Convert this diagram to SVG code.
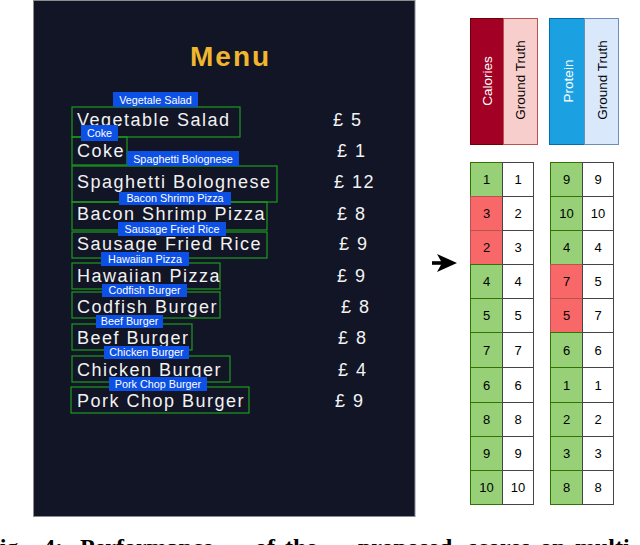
<svg xmlns="http://www.w3.org/2000/svg" width="640" height="545" viewBox="0 0 640 545">
<style>
.item{font-family:"Liberation Sans",Arial,sans-serif;font-size:18px;letter-spacing:1.5px;fill:#f2f2f2}
.price{font-family:"Liberation Sans",Arial,sans-serif;font-size:18px;letter-spacing:1.5px;fill:#f2f2f2}
.box{fill:none;stroke:#1e9b1e;stroke-width:1.2}
.lbl{fill:#0d50e6}
.lt{font-family:"Liberation Sans",Arial,sans-serif;font-size:10.8px;fill:#ffffff;text-anchor:middle}
.deco{stroke-width:1.6;fill:none}
.num{font-family:"Liberation Sans",Arial,sans-serif;font-size:13px;fill:#000;text-anchor:middle}
.g{fill:#97d077;stroke:#2d7600;stroke-width:1}
.r{fill:#f86868;stroke:#b85450;stroke-width:1}
.w{fill:#ffffff;stroke:#444;stroke-width:1}
.hd{font-family:"Liberation Sans",Arial,sans-serif;font-size:13.5px;text-anchor:middle}
.cap{font-family:"Liberation Serif","Times New Roman",serif;font-size:24px;font-weight:bold;fill:#000}
</style>
<defs>
<linearGradient id="gv" x1="0" y1="0" x2="0" y2="1">
<stop offset="0" stop-color="#5a4a3a"/><stop offset="0.4" stop-color="#a8a29a"/><stop offset="1" stop-color="#6e665c"/>
</linearGradient>
<linearGradient id="gh" x1="0" y1="0" x2="1" y2="0">
<stop offset="0" stop-color="#b0aaa2"/><stop offset="1" stop-color="#8e877e"/>
</linearGradient>
</defs>
<rect x="0" y="0" width="640" height="545" fill="#ffffff"/>

<g id="menu-panel">
<rect x="33.5" y="0.5" width="381.5" height="516" fill="#111526" stroke="#8c8c8c" stroke-width="1"/>
<line class="deco" x1="41" y1="27" x2="136" y2="27" stroke="url(#gh)"/>
<line class="deco" x1="41" y1="36" x2="136" y2="36" stroke="url(#gh)"/>
<line class="deco" x1="47" y1="18" x2="47" y2="170" stroke="url(#gv)" stroke-width="1.3"/>
<line class="deco" x1="54" y1="11" x2="54" y2="178" stroke="url(#gv)"/>
<line class="deco" x1="294" y1="481" x2="390" y2="481" stroke="url(#gh)"/>
<line class="deco" x1="294" y1="490" x2="390" y2="490" stroke="url(#gh)"/>
<line class="deco" x1="376" y1="360" x2="376" y2="508" stroke="url(#gv)" stroke-width="1.3"/>
<line class="deco" x1="382" y1="352" x2="382" y2="498" stroke="url(#gv)"/>
<text x="190" y="66" font-family="'Liberation Sans',Arial,sans-serif" font-size="28" font-weight="bold" letter-spacing="2" fill="#f1b52e">Menu</text>
</g>

<g id="item-vegetable-salad">
<rect class="box" x="72" y="107" width="168" height="30"/>
<text class="item" x="77" y="126">Vegetable Salad</text>
<text class="price" x="333" y="126">£ 5</text>
</g>
<g id="item-coke">
<rect class="box" x="72" y="137" width="55" height="28"/>
<text class="item" x="77" y="157">Coke</text>
<text class="price" x="337" y="157">£ 1</text>
</g>
<g id="item-spaghetti">
<rect class="box" x="72" y="166" width="205" height="36"/>
<text class="item" x="77" y="188">Spaghetti Bolognese</text>
<text class="price" x="334" y="188">£ 12</text>
</g>
<g id="item-bacon">
<rect class="box" x="72" y="202" width="195" height="28"/>
<text class="item" x="77" y="220">Bacon Shrimp Pizza</text>
<text class="price" x="337" y="220">£ 8</text>
</g>
<g id="item-sausage">
<rect class="box" x="72" y="232" width="195" height="26"/>
<text class="item" x="77" y="250">Sausage Fried Rice</text>
<text class="price" x="339" y="250">£ 9</text>
</g>
<g id="item-hawaiian">
<rect class="box" x="72" y="263" width="148" height="26"/>
<text class="item" x="77" y="282">Hawaiian Pizza</text>
<text class="price" x="337" y="282">£ 9</text>
</g>
<g id="item-codfish">
<rect class="box" x="72" y="292" width="148" height="26"/>
<text class="item" x="77" y="313">Codfish Burger</text>
<text class="price" x="341" y="313">£ 8</text>
</g>
<g id="item-beef">
<rect class="box" x="72" y="324" width="120" height="26"/>
<text class="item" x="77" y="344">Beef Burger</text>
<text class="price" x="338" y="344">£ 8</text>
</g>
<g id="item-chicken">
<rect class="box" x="72" y="356" width="158" height="26"/>
<text class="item" x="77" y="376">Chicken Burger</text>
<text class="price" x="338" y="376">£ 4</text>
</g>
<g id="item-pork">
<rect class="box" x="71" y="387" width="178" height="26"/>
<text class="item" x="77" y="407">Pork Chop Burger</text>
<text class="price" x="335" y="407">£ 9</text>
</g>

<g id="labels">
<rect class="lbl" x="113" y="92" width="85" height="15"/><text class="lt" x="155.5" y="103.5">Vegetale Salad</text>
<rect class="lbl" x="81" y="125" width="37" height="16"/><text class="lt" x="99.5" y="137">Coke</text>
<rect class="lbl" x="127" y="151" width="112" height="15"/><text class="lt" x="183" y="162.5">Spaghetti Bolognese</text>
<rect class="lbl" x="119" y="192" width="112" height="13"/><text class="lt" x="175" y="202">Bacon Shrimp Pizza</text>
<rect class="lbl" x="118" y="222" width="108" height="14"/><text class="lt" x="172" y="232.5">Sausage Fried Rice</text>
<rect class="lbl" x="101" y="252" width="88" height="14"/><text class="lt" x="145" y="262.5">Hawaiian Pizza</text>
<rect class="lbl" x="102" y="284" width="85" height="13"/><text class="lt" x="144.5" y="294">Codfish Burger</text>
<rect class="lbl" x="96" y="315" width="67" height="13"/><text class="lt" x="129.5" y="325">Beef Burger</text>
<rect class="lbl" x="104" y="346" width="85" height="13"/><text class="lt" x="146.5" y="356">Chicken Burger</text>
<rect class="lbl" x="109" y="377" width="98" height="14"/><text class="lt" x="158" y="387.5">Pork Chop Burger</text>
</g>

<g id="connectors">
<line x1="432" y1="263" x2="444" y2="263" stroke="#000" stroke-width="3.6"/>
<path d="M437,254 L457,263 L437,272 L442,263 Z" fill="#000"/>
</g>

<g id="header-calories">
<rect x="470.5" y="18.5" width="33" height="126" fill="#a20025" stroke="#6f0000"/>
<text class="hd" fill="#ffffff" transform="translate(492,81) rotate(-90)">Calories</text>
</g>
<g id="header-calories-gt">
<rect x="503.5" y="18.5" width="34" height="126" fill="#f8cecc" stroke="#b85450"/>
<text class="hd" fill="#000" transform="translate(525,80) rotate(-90)">Ground Truth</text>
</g>
<g id="header-protein">
<rect x="549.5" y="18.5" width="35" height="126" fill="#1ba1e2" stroke="#006eaf"/>
<text class="hd" fill="#ffffff" transform="translate(572.5,81) rotate(-90)">Protein</text>
</g>
<g id="header-protein-gt">
<rect x="584.5" y="18.5" width="34" height="126" fill="#dae8fc" stroke="#6c8ebf"/>
<text class="hd" fill="#000" transform="translate(606.5,80) rotate(-90)">Ground Truth</text>
</g>

<g id="table-calories">
<rect class="g" x="470.5" y="162.5" width="32" height="34"/><text class="num" x="486.5" y="184">1</text>
<rect class="r" x="470.5" y="196.5" width="32" height="34"/><text class="num" x="486.5" y="218">3</text>
<rect class="r" x="470.5" y="230.5" width="32" height="34"/><text class="num" x="486.5" y="252">2</text>
<rect class="g" x="470.5" y="264.5" width="32" height="34"/><text class="num" x="486.5" y="286">4</text>
<rect class="g" x="470.5" y="298.5" width="32" height="34"/><text class="num" x="486.5" y="320">5</text>
<rect class="g" x="470.5" y="332.5" width="32" height="35"/><text class="num" x="486.5" y="354.5">7</text>
<rect class="g" x="470.5" y="367.5" width="32" height="35"/><text class="num" x="486.5" y="389.5">6</text>
<rect class="g" x="470.5" y="402.5" width="32" height="34"/><text class="num" x="486.5" y="424">8</text>
<rect class="g" x="470.5" y="436.5" width="32" height="34"/><text class="num" x="486.5" y="458">9</text>
<rect class="g" x="470.5" y="470.5" width="32" height="34"/><text class="num" x="486.5" y="492">10</text>
</g>
<g id="table-calories-gt">
<rect class="w" x="502.5" y="162.5" width="31" height="34"/><text class="num" x="518" y="184">1</text>
<rect class="w" x="502.5" y="196.5" width="31" height="34"/><text class="num" x="518" y="218">2</text>
<rect class="w" x="502.5" y="230.5" width="31" height="34"/><text class="num" x="518" y="252">3</text>
<rect class="w" x="502.5" y="264.5" width="31" height="34"/><text class="num" x="518" y="286">4</text>
<rect class="w" x="502.5" y="298.5" width="31" height="34"/><text class="num" x="518" y="320">5</text>
<rect class="w" x="502.5" y="332.5" width="31" height="35"/><text class="num" x="518" y="354.5">7</text>
<rect class="w" x="502.5" y="367.5" width="31" height="35"/><text class="num" x="518" y="389.5">6</text>
<rect class="w" x="502.5" y="402.5" width="31" height="34"/><text class="num" x="518" y="424">8</text>
<rect class="w" x="502.5" y="436.5" width="31" height="34"/><text class="num" x="518" y="458">9</text>
<rect class="w" x="502.5" y="470.5" width="31" height="34"/><text class="num" x="518" y="492">10</text>
</g>
<g id="table-protein">
<rect class="g" x="550.5" y="162.5" width="32" height="34"/><text class="num" x="566.5" y="184">9</text>
<rect class="g" x="550.5" y="196.5" width="32" height="34"/><text class="num" x="566.5" y="218">10</text>
<rect class="g" x="550.5" y="230.5" width="32" height="34"/><text class="num" x="566.5" y="252">4</text>
<rect class="r" x="550.5" y="264.5" width="32" height="34"/><text class="num" x="566.5" y="286">7</text>
<rect class="r" x="550.5" y="298.5" width="32" height="34"/><text class="num" x="566.5" y="320">5</text>
<rect class="g" x="550.5" y="332.5" width="32" height="35"/><text class="num" x="566.5" y="354.5">6</text>
<rect class="g" x="550.5" y="367.5" width="32" height="35"/><text class="num" x="566.5" y="389.5">1</text>
<rect class="g" x="550.5" y="402.5" width="32" height="34"/><text class="num" x="566.5" y="424">2</text>
<rect class="g" x="550.5" y="436.5" width="32" height="34"/><text class="num" x="566.5" y="458">3</text>
<rect class="g" x="550.5" y="470.5" width="32" height="34"/><text class="num" x="566.5" y="492">8</text>
</g>
<g id="table-protein-gt">
<rect class="w" x="582.5" y="162.5" width="31" height="34"/><text class="num" x="598" y="184">9</text>
<rect class="w" x="582.5" y="196.5" width="31" height="34"/><text class="num" x="598" y="218">10</text>
<rect class="w" x="582.5" y="230.5" width="31" height="34"/><text class="num" x="598" y="252">4</text>
<rect class="w" x="582.5" y="264.5" width="31" height="34"/><text class="num" x="598" y="286">5</text>
<rect class="w" x="582.5" y="298.5" width="31" height="34"/><text class="num" x="598" y="320">7</text>
<rect class="w" x="582.5" y="332.5" width="31" height="35"/><text class="num" x="598" y="354.5">6</text>
<rect class="w" x="582.5" y="367.5" width="31" height="35"/><text class="num" x="598" y="389.5">1</text>
<rect class="w" x="582.5" y="402.5" width="31" height="34"/><text class="num" x="598" y="424">2</text>
<rect class="w" x="582.5" y="436.5" width="31" height="34"/><text class="num" x="598" y="458">3</text>
<rect class="w" x="582.5" y="470.5" width="31" height="34"/><text class="num" x="598" y="492">8</text>
</g>

<g id="caption">
<text class="cap" y="555"><tspan x="-15">Fig.</tspan><tspan x="43">4:</tspan><tspan x="80">Performance</tspan><tspan x="255">of</tspan><tspan x="285">the</tspan><tspan x="358">proposed</tspan><tspan x="468">scores</tspan><tspan x="540">on</tspan><tspan x="575">multi</tspan></text>
</g>
</svg>
